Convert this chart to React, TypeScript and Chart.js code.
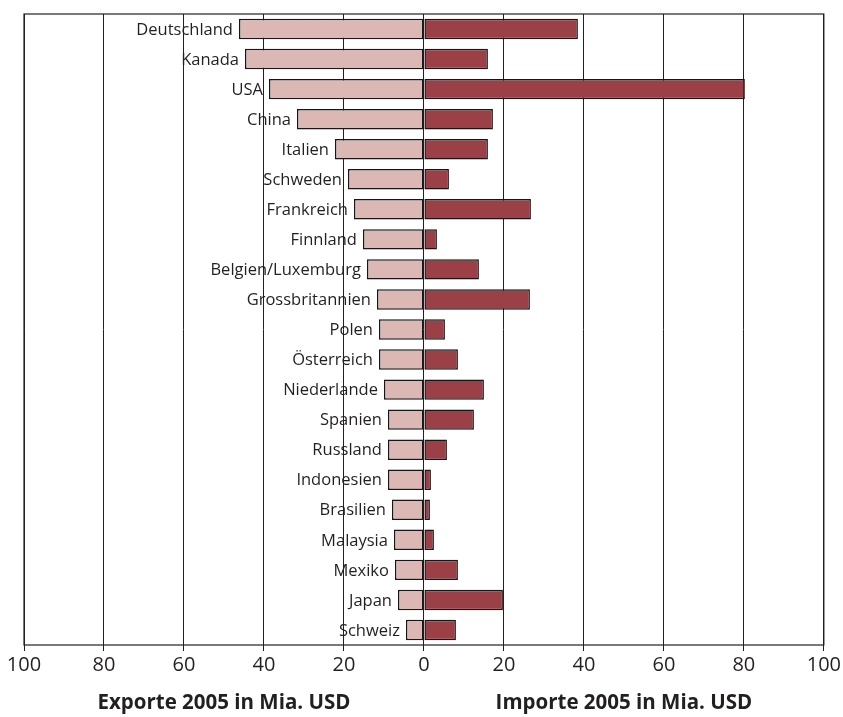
import { useEffect, useRef } from "react";
import { Chart, registerables } from "chart.js";

Chart.register(...registerables);

const countries = [
  "Deutschland", "Kanada", "USA", "China", "Italien", "Schweden", "Frankreich",
  "Finnland", "Belgien/Luxemburg", "Grossbritannien", "Polen", "Österreich",
  "Niederlande", "Spanien", "Russland", "Indonesien", "Brasilien", "Malaysia",
  "Mexiko", "Japan", "Schweiz",
];
const exporte = [
  46.25, 44.75, 38.75, 31.75, 22.25, 19, 17.5, 15.25, 14.25, 11.75, 11.25,
  11.25, 10, 9, 9, 9, 8, 7.5, 7.25, 6.5, 4.5,
];
const importe = [
  38.5, 16, 80.25, 17.25, 16, 6.25, 26.75, 3.25, 13.75, 26.5, 5.25, 8.5, 15,
  12.5, 5.75, 1.75, 1.5, 2.5, 8.5, 19.75, 8,
];
const xTicks = [-100, -80, -60, -40, -20, 0, 20, 40, 60, 80, 100];

const FONT = "'Open Sans', 'DejaVu Sans', sans-serif";

const labelPlugin = {
  id: "labels",
  afterDatasetsDraw(chart: any) {
    const { ctx, chartArea, scales } = chart;
    const x = scales.x;
    const y = scales.y;
    ctx.save();
    ctx.fillStyle = "#231f20";
    ctx.font = `16.5px ${FONT}`;
    ctx.textAlign = "right";
    ctx.textBaseline = "middle";
    countries.forEach((c, i) => {
      ctx.fillText(c, x.getPixelForValue(-exporte[i]) - 6, y.getPixelForValue(i) + 1);
    });
    ctx.strokeStyle = "#231f20";
    ctx.lineWidth = 1.2;
    ctx.strokeRect(chartArea.left, chartArea.top, chartArea.right - chartArea.left, chartArea.bottom - chartArea.top);
    ctx.font = `bold 20.5px ${FONT}`;
    ctx.textAlign = "center";
    ctx.fillText("Exporte 2005 in Mia. USD", x.getPixelForValue(-50), 703);
    ctx.fillText("Importe 2005 in Mia. USD", x.getPixelForValue(50), 703);
    ctx.restore();
  },
};

const App = () => {
  const chartRef = useRef<HTMLCanvasElement>(null);

  useEffect(() => {
    const chart = new Chart(chartRef.current!, {
      type: "bar",
      data: {
        labels: countries,
        datasets: [
          {
            label: "Exporte",
            data: exporte.map((v) => -v),
            backgroundColor: "#dcb8b5",
            borderColor: "#1a1416",
            borderWidth: 1.5,
            borderSkipped: false,
          },
          {
            label: "Importe",
            data: importe,
            backgroundColor: "#9a4046",
            borderColor: "#1a1416",
            borderWidth: 1.5,
            borderSkipped: false,
          },
        ],
      },
      options: {
        indexAxis: "y",
        animation: false,
        responsive: false,
        layout: { padding: { left: 24, right: 18, top: 14, bottom: 38 } },
        datasets: { bar: { categoryPercentage: 0.68, barPercentage: 1 } },
        plugins: { legend: { display: false }, tooltip: { enabled: false } },
        scales: {
          x: {
            min: -100,
            max: 100,
            afterBuildTicks: (axis: any) => {
              axis.ticks = xTicks.map((v) => ({ value: v }));
            },
            grid: { color: "#231f20", lineWidth: 1, tickLength: 6 },
            border: { display: false },
            ticks: {
              color: "#231f20",
              font: { family: FONT, size: 20 },
              padding: 2,
              callback: (v: any) => String(Math.abs(v)),
            },
          },
          y: {
            stacked: true,
            display: false,
          },
        },
      },
      plugins: [labelPlugin],
    });
    return () => chart.destroy();
  }, []);

  return (
    <div style={{ position: "fixed", left: 0, top: 0, width: 843, height: 717, background: "#fff" }}>
      <canvas ref={chartRef} width={843} height={717}></canvas>
    </div>
  );
};

export default App;
